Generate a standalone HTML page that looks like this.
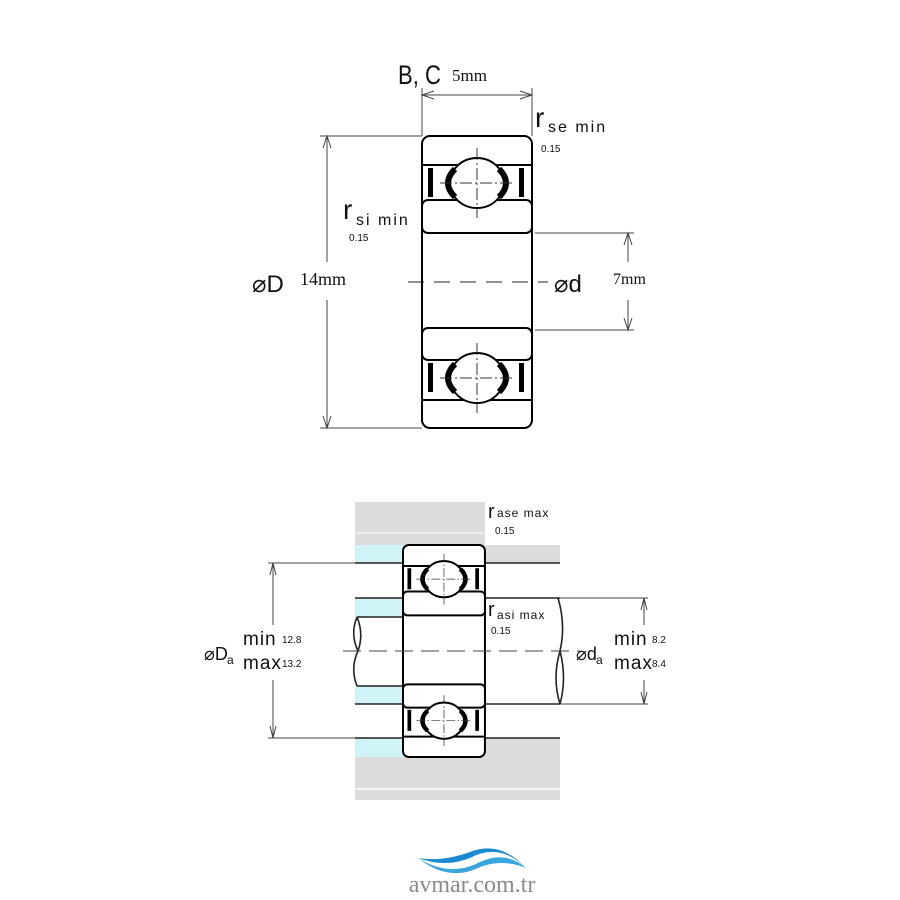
<!DOCTYPE html>
<html><head><meta charset="utf-8"><style>
html,body{margin:0;padding:0;background:#fff;}
svg{display:block}
text{font-family:"Liberation Sans",sans-serif;fill:#111}
.s{font-family:"Liberation Serif",serif}
</style></head><body>
<svg width="900" height="900" viewBox="0 0 900 900" xmlns="http://www.w3.org/2000/svg">
<defs>
<g id="brg">
 <rect x="0" y="0" width="110" height="292" rx="8" fill="#fff" stroke="#000" stroke-width="2" vector-effect="non-scaling-stroke"/>
 <line x1="0" y1="29" x2="110" y2="29" stroke="#000" stroke-width="2" vector-effect="non-scaling-stroke"/>
 <rect x="0" y="64" width="110" height="33" rx="6" fill="#fff" stroke="#000" stroke-width="2" vector-effect="non-scaling-stroke"/>
 <rect x="0" y="192" width="110" height="32" rx="6" fill="#fff" stroke="#000" stroke-width="2" vector-effect="non-scaling-stroke"/>
 <line x1="0" y1="264" x2="110" y2="264" stroke="#000" stroke-width="2" vector-effect="non-scaling-stroke"/>
 <rect x="6" y="32" width="5" height="29" fill="#000"/>
 <rect x="97" y="32" width="5" height="29" fill="#000"/>
 <rect x="6" y="227" width="5" height="29" fill="#000"/>
 <rect x="97" y="227" width="5" height="29" fill="#000"/>
 <ellipse cx="55" cy="47" rx="27" ry="25" fill="#fff" stroke="#000" stroke-width="2" vector-effect="non-scaling-stroke"/>
 <ellipse cx="55" cy="242" rx="27" ry="25" fill="#fff" stroke="#000" stroke-width="2" vector-effect="non-scaling-stroke"/>
 <g fill="none" stroke="#000" stroke-width="6">
  <path d="M33,33 Q19,47 33,61"/><path d="M77,33 Q91,47 77,61"/>
  <path d="M33,228 Q19,242 33,256"/><path d="M77,228 Q91,242 77,256"/>
 </g>
 <g stroke="#333" stroke-width="1" stroke-dasharray="12,3,2,3" vector-effect="non-scaling-stroke">
  <line x1="55" y1="12" x2="55" y2="82"/><line x1="18" y1="47" x2="92" y2="47"/>
  <line x1="55" y1="207" x2="55" y2="277"/><line x1="18" y1="242" x2="92" y2="242"/>
 </g>
</g>
</defs>

<use href="#brg" x="422" y="136"/>
<line x1="408" y1="282" x2="548" y2="282" stroke="#222" stroke-width="1" stroke-dasharray="16,10"/>
<line x1="422" y1="88" x2="422" y2="136" stroke="#444" stroke-width="1"/>
<line x1="532" y1="88" x2="532" y2="136" stroke="#444" stroke-width="1"/>
<line x1="422" y1="95" x2="532" y2="95" stroke="#444" stroke-width="1"/>
<path d="M434,91 L422,95 L434,99 M520,91 L532,95 L520,99" fill="none" stroke="#444"/>
<text x="398" y="84" font-size="24" transform="translate(398,84) scale(0.92,1.12) translate(-398,-84)">B, C</text>
<text x="452" y="81" font-size="17" class="s">5mm</text>
<line x1="320" y1="136" x2="422" y2="136" stroke="#444"/>
<line x1="320" y1="428" x2="422" y2="428" stroke="#444"/>
<line x1="327" y1="136" x2="327" y2="262" stroke="#444"/>
<line x1="327" y1="300" x2="327" y2="428" stroke="#444"/>
<path d="M323,148 L327,136 L331,148 M323,416 L327,428 L331,416" fill="none" stroke="#444"/>
<text x="252" y="292" font-size="24">⌀D</text>
<text x="300" y="285" font-size="18" class="s">14mm</text>
<line x1="535" y1="233" x2="634" y2="233" stroke="#444"/>
<line x1="535" y1="330" x2="634" y2="330" stroke="#444"/>
<line x1="628" y1="233" x2="628" y2="262" stroke="#444"/>
<line x1="628" y1="300" x2="628" y2="330" stroke="#444"/>
<path d="M624,245 L628,233 L632,245 M624,318 L628,330 L632,318" fill="none" stroke="#444"/>
<text x="554" y="292" font-size="24">⌀d</text>
<text x="613" y="284" font-size="16" class="s">7mm</text>
<text x="535" y="127" font-size="28">r</text><text x="548" y="132" font-size="16" letter-spacing="2">se min</text>
<text x="541" y="152" font-size="10" fill="#444">0.15</text>
<text x="343" y="219" font-size="28">r</text><text x="356" y="225" font-size="16" letter-spacing="2">si min</text>
<text x="349" y="241" font-size="10" fill="#444">0.15</text>

<rect x="355" y="502" width="130" height="43" fill="#dcdcdc"/>
<rect x="355" y="545" width="205" height="18" fill="#dcdcdc"/>
<rect x="355" y="738" width="205" height="62" fill="#dcdcdc"/>
<line x1="355" y1="789" x2="560" y2="789" stroke="#f4f4f4" stroke-width="2"/>
<line x1="355" y1="533" x2="485" y2="533" stroke="#eaeaea" stroke-width="2"/>
<rect x="355" y="545" width="48" height="18" fill="#cff3f6"/>
<rect x="355" y="598" width="48" height="19" fill="#cff3f6"/>
<rect x="355" y="686" width="48" height="18" fill="#cff3f6"/>
<rect x="355" y="738" width="48" height="19" fill="#cff3f6"/>
<rect x="355" y="563" width="205" height="35" fill="#fff"/>
<rect x="355" y="704" width="205" height="34" fill="#fff"/>
<rect x="403" y="598" width="157" height="106" fill="#fff"/>
<g stroke="#222" stroke-width="1.6">
<line x1="355" y1="563" x2="560" y2="563"/><line x1="355" y1="598" x2="403" y2="598"/>
<line x1="485" y1="598" x2="560" y2="598"/><line x1="485" y1="704" x2="560" y2="704"/>
<line x1="355" y1="704" x2="403" y2="704"/><line x1="355" y1="738" x2="560" y2="738"/>
<path d="M357,617 L408,617 L410,619 L410,684 L408,686 L357,686" fill="none"/>
<path d="M357,617 Q350,634 358,651 Q350,668 357,686" fill="none"/>
<path d="M357,617 Q364,634 358,651" fill="none"/>
<path d="M558,598 Q566,625 560,651 Q552,678 560,704" fill="none"/>
<path d="M560,651 Q567,678 560,704" fill="none"/>
<line x1="410" y1="617" x2="422" y2="617"/><line x1="410" y1="686" x2="422" y2="686"/>
</g>
<use href="#brg" transform="translate(403,545) scale(0.745,0.726)"/>
<line x1="343" y1="651" x2="580" y2="651" stroke="#444" stroke-dasharray="18,8"/>
<g stroke="#444" stroke-width="1">
<line x1="268" y1="563" x2="355" y2="563"/><line x1="268" y1="738" x2="355" y2="738"/>
<line x1="273" y1="563" x2="273" y2="625"/><line x1="273" y1="680" x2="273" y2="738"/>
<path d="M270,575 L273,563 L276,575 M270,726 L273,738 L276,726" fill="none"/>
<line x1="560" y1="598" x2="648" y2="598"/><line x1="560" y1="704" x2="648" y2="704"/>
<line x1="644" y1="598" x2="644" y2="625"/><line x1="644" y1="680" x2="644" y2="704"/>
<path d="M641,610 L644,598 L647,610 M641,692 L644,704 L647,692" fill="none"/>
</g>
<text x="204" y="660" font-size="18">⌀D</text><text x="227" y="664" font-size="12">a</text>
<text x="243" y="645" font-size="19" letter-spacing="1">min</text>
<text x="243" y="669" font-size="19" letter-spacing="1">max</text>
<text x="282" y="643" font-size="10" fill="#444">12.8</text>
<text x="282" y="667" font-size="10" fill="#444">13.2</text>
<text x="576" y="660" font-size="18">⌀d</text><text x="596" y="664" font-size="12">a</text>
<text x="614" y="645" font-size="19" letter-spacing="1">min</text>
<text x="614" y="669" font-size="19" letter-spacing="1">max</text>
<text x="652" y="643" font-size="10" fill="#444">8.2</text>
<text x="652" y="667" font-size="10" fill="#444">8.4</text>
<text x="488" y="518" font-size="20">r</text><text x="497" y="517" font-size="12" letter-spacing="1">ase max</text>
<text x="495" y="534" font-size="10" fill="#444">0.15</text>
<text x="488" y="616" font-size="20">r</text><text x="497" y="619" font-size="12" letter-spacing="1">asi max</text>
<text x="491" y="634" font-size="10" fill="#444">0.15</text>

<path d="M418,858 Q445,868 470,858 Q500,842 526,868 Q500,840 470,852 Q442,862 418,858Z" fill="#1b8ad0"/>
<path d="M418,858 Q450,878 480,862 Q505,850 526,868 Q500,858 478,868 Q448,882 418,858Z" fill="#3aa6e0"/>
<text x="472" y="892" font-size="24" text-anchor="middle" class="s" style="fill:#8a8a8a">avmar.com.tr</text>
</svg>
</body></html>
